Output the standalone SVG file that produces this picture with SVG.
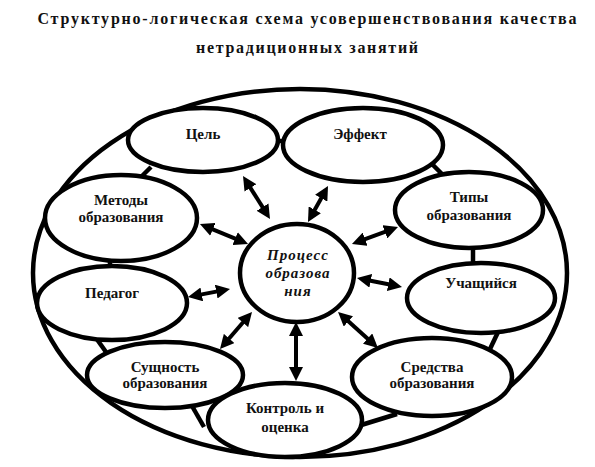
<svg xmlns="http://www.w3.org/2000/svg" width="595" height="467" viewBox="0 0 595 467">
<style>
text{font-family:'Liberation Serif','DejaVu Serif',serif;font-weight:bold;fill:#111}
.title{font-size:16px;text-anchor:middle}
.n{font-size:15px;text-anchor:middle}
.c{font-size:15px;font-style:italic;text-anchor:middle;letter-spacing:1px}
.e{fill:#fff;stroke:#000;stroke-width:4.5}
.l{stroke:#000;stroke-width:4.5;fill:none}
.a{stroke:#000;stroke-width:4;fill:none;marker-start:url(#h);marker-end:url(#h)}
</style>
<defs>
<marker id="h" markerUnits="userSpaceOnUse" viewBox="0 0 14 14" markerWidth="14" markerHeight="14" refX="8" refY="7" orient="auto-start-reverse">
<path d="M0,0 L14,7 L0,14 z" fill="#000"/>
</marker>
</defs>
<rect width="595" height="467" fill="#fff"/>
<g id="title">
<text class="title" x="307" y="24" textLength="539" lengthAdjust="spacing">Структурно-логическая схема усовершенствования качества</text>
<text class="title" x="307" y="53" textLength="222" lengthAdjust="spacing">нетрадиционных занятий</text>
</g>
<g id="outer">
<ellipse class="e" cx="300" cy="273" rx="267" ry="184"/>
</g>
<g id="connectors">
<line class="l" x1="276" y1="141" x2="285" y2="141"/>
<line class="l" x1="140" y1="178" x2="151" y2="167"/>
<line class="l" x1="432" y1="164" x2="443" y2="175"/>
<line class="l" x1="110" y1="259" x2="110" y2="269"/>
<line class="l" x1="473" y1="246" x2="473" y2="265"/>
<line class="l" x1="96" y1="338" x2="106" y2="352"/>
<line class="l" x1="192" y1="406" x2="204" y2="427"/>
<line class="l" x1="499" y1="330" x2="490" y2="349"/>
<line class="l" x1="358" y1="426" x2="397" y2="414"/>
<line class="a" x1="246.2" y1="181.1" x2="266.8" y2="213.9"/>
<line class="a" x1="325.1" y1="191.2" x2="310.9" y2="216.8"/>
<line class="a" x1="205.5" y1="226.3" x2="242.5" y2="241.7"/>
<line class="a" x1="392.4" y1="229.1" x2="357.6" y2="241.9"/>
<line class="a" x1="193.9" y1="295.9" x2="224.1" y2="290.1"/>
<line class="a" x1="362.9" y1="279.2" x2="396.1" y2="285.8"/>
<line class="a" x1="223.9" y1="344.5" x2="248.1" y2="316.5"/>
<line class="a" x1="342.5" y1="316" x2="373.5" y2="344"/>
<line class="a" x1="296" y1="328" x2="296" y2="375"/>
</g>
<g id="goal">
<ellipse class="e" cx="203" cy="140" rx="75" ry="32"/>
<text class="n" x="203" y="139">Цель</text>
</g>
<g id="effect">
<ellipse class="e" cx="363" cy="145" rx="80" ry="37"/>
<text class="n" x="360" y="139">Эффект</text>
</g>
<g id="methods">
<ellipse class="e" cx="121" cy="218" rx="76" ry="43"/>
<text class="n" x="121" y="205">Методы</text>
<text class="n" x="121" y="222">образования</text>
</g>
<g id="types">
<ellipse class="e" cx="469" cy="210" rx="74" ry="38"/>
<text class="n" x="469" y="202">Типы</text>
<text class="n" x="469" y="220">образования</text>
</g>
<g id="teacher">
<ellipse class="e" cx="112" cy="303" rx="75" ry="37"/>
<text class="n" x="112" y="298">Педагог</text>
</g>
<g id="student">
<ellipse class="e" cx="481" cy="298" rx="74" ry="35"/>
<text class="n" x="481" y="288">Учащийся</text>
</g>
<g id="essence">
<ellipse class="e" cx="165" cy="375" rx="78" ry="33"/>
<text class="n" x="165" y="372">Сущность</text>
<text class="n" x="165" y="388">образования</text>
</g>
<g id="means">
<ellipse class="e" cx="432" cy="377" rx="80" ry="39"/>
<text class="n" x="432" y="372">Средства</text>
<text class="n" x="432" y="388">образования</text>
</g>
<g id="control">
<ellipse class="e" cx="285" cy="420" rx="77" ry="37"/>
<text class="n" x="285" y="413">Контроль и</text>
<text class="n" x="285" y="432">оценка</text>
</g>
<g id="process">
<ellipse class="e" cx="297" cy="273" rx="57" ry="49"/>
<text class="c" x="298" y="260">Процесс</text>
<text class="c" x="298" y="278">образова</text>
<text class="c" x="298" y="296">ния</text>
</g>
</svg>
